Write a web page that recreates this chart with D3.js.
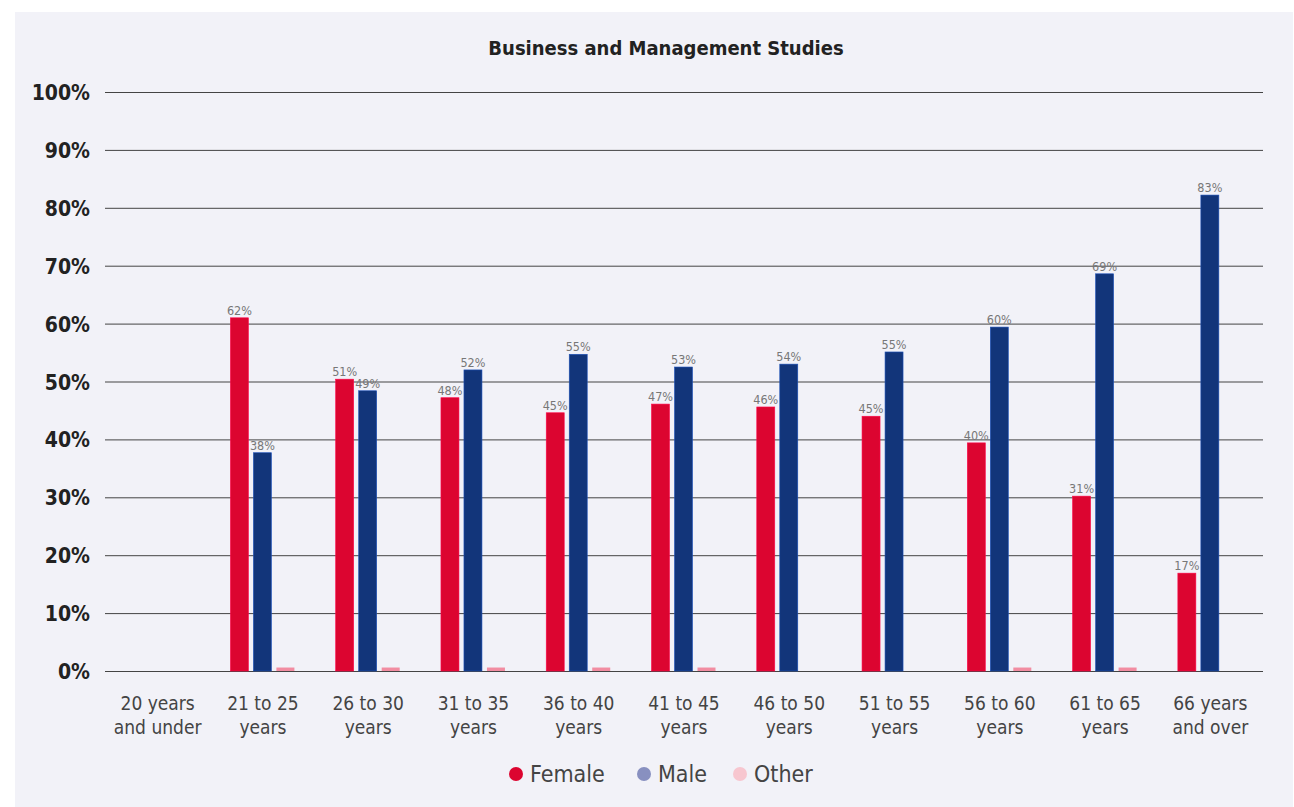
<!DOCTYPE html>
<html>
<head>
<meta charset="utf-8">
<script src="https://cdn.jsdelivr.net/npm/d3@7"></script>
<style>
    body { margin: 0; background: #ffffff; }
    svg { display: block; font-family: "DejaVu Sans Condensed", "Roboto", sans-serif; }
</style>
</head>
<body>
<div id="chart-area"></div>
<script>
const WIDTH = 1294;
const HEIGHT = 807;

const categories = [
    "20 years\nand under", "21 to 25\nyears", "26 to 30\nyears", "31 to 35\nyears",
    "36 to 40\nyears", "41 to 45\nyears", "46 to 50\nyears", "51 to 55\nyears",
    "56 to 60\nyears", "61 to 65\nyears", "66 years\nand over"
];
const seriesNames = ["Female", "Male", "Other"];
const femaleValues = [null, 61.0, 50.4, 47.2, 44.6, 46.1, 45.6, 44.0, 39.4, 30.2, 16.9];
const maleValues = [null, 37.7, 48.4, 52.0, 54.7, 52.5, 53.0, 55.1, 59.4, 68.6, 82.2];
const otherValues = [null, 0.6, 0.6, 0.6, 0.6, 0.6, null, null, 0.6, 0.6, null];
const femaleLabels = ["", "62%", "51%", "48%", "45%", "47%", "46%", "45%", "40%", "31%", "17%"];
const maleLabels = ["", "38%", "49%", "52%", "55%", "53%", "54%", "55%", "60%", "69%", "83%"];
const yTicks = [0, 10, 20, 30, 40, 50, 60, 70, 80, 90, 100];

const barColors = ["#dc0530", "#12357a", "#f28da2"];
const legendColors = ["#dc0530", "#8890c0", "#f7c6cf"];

const svg = d3.select("#chart-area").append("svg")
    .attr("width", WIDTH)
    .attr("height", HEIGHT);

svg.append("rect")
    .attr("x", 15).attr("y", 12)
    .attr("width", WIDTH - 16).attr("height", HEIGHT - 12)
    .attr("fill", "#f2f2f8");

svg.append("text")
    .attr("x", 666).attr("y", 55)
    .attr("text-anchor", "middle")
    .attr("font-size", 20).attr("font-weight", "bold")
    .attr("fill", "#222")
    .text("Business and Management Studies");

const plotLeft = 105, plotRight = 1263, plotTop = 92, plotBottom = 671;

const x = d3.scaleBand().domain(categories).range([plotLeft, plotRight]);
const y = d3.scaleLinear().domain([0, 100]).range([plotBottom, plotTop]);

// gridlines + y labels
const grid = svg.append("g").attr("class", "grid");
grid.selectAll("line")
    .data(yTicks)
    .enter().append("line")
    .attr("x1", plotLeft).attr("x2", plotRight)
    .attr("y1", d => y(d) + 0.5).attr("y2", d => y(d) + 0.5)
    .attr("stroke", "#444").attr("stroke-width", 1);

grid.selectAll("text")
    .data(yTicks)
    .enter().append("text")
    .attr("x", 90).attr("y", d => y(d) + 8)
    .attr("text-anchor", "end")
    .attr("font-size", 21).attr("font-weight", "bold")
    .attr("fill", "#222")
    .text(d => d + "%");

// x labels
const xl = svg.append("g");
categories.forEach((c) => {
    const cx = x(c) + x.bandwidth() / 2;
    const t = xl.append("text")
        .attr("x", cx)
        .attr("y", 710)
        .attr("text-anchor", "middle")
        .attr("font-size", 19)
        .attr("fill", "#444");
    c.split("\n").forEach((line, k) => {
        t.append("tspan")
            .attr("x", cx)
            .attr("dy", k === 0 ? 0 : 24)
            .text(line);
    });
});

// bars
const BAR_W = 18, STEP = 23;
const xs = d3.scaleBand().domain(seriesNames).range([-STEP * 1.5, STEP * 1.5]);
const allValues = [femaleValues, maleValues, otherValues];
const allLabels = [femaleLabels, maleLabels, null];

allValues.forEach((vals, s) => {
    const data = categories.map((c, i) => ({ c: c, v: vals[i], label: allLabels[s] ? allLabels[s][i] : "" }))
        .filter(d => d.v != null);
    const g = svg.append("g");
    g.selectAll("rect")
        .data(data)
        .enter().append("rect")
        .attr("x", d => x(d.c) + x.bandwidth() / 2 + xs(seriesNames[s]) + (STEP - BAR_W) / 2 - 0.5)
        .attr("width", BAR_W)
        .attr("y", d => y(d.v))
        .attr("height", d => plotBottom - y(d.v))
        .attr("fill", barColors[s])
        .attr("stroke", s === 2 ? "none" : d3.color(barColors[s]).brighter(1.2))
        .attr("stroke-width", 0.6);
    g.selectAll("text")
        .data(data.filter(d => d.label))
        .enter().append("text")
        .attr("x", d => x(d.c) + x.bandwidth() / 2 + xs(seriesNames[s]) + STEP / 2 - 0.5)
        .attr("y", d => y(d.v) - 3)
        .attr("text-anchor", "middle")
        .attr("font-size", 12.5)
        .attr("fill", "#777")
        .text(d => d.label);
});

// legend
const legendX = [516, 644, 740];
const legend = svg.append("g");
seriesNames.forEach((n, i) => {
    legend.append("circle")
        .attr("cx", legendX[i]).attr("cy", 774)
        .attr("r", 7)
        .attr("fill", legendColors[i]);
    legend.append("text")
        .attr("x", legendX[i] + 14).attr("y", 782)
        .attr("font-size", 23)
        .attr("fill", "#444")
        .text(n);
});
</script>
</body>
</html>
